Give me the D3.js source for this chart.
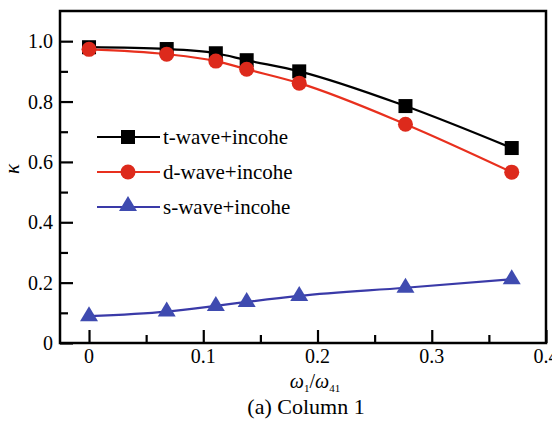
<!DOCTYPE html>
<html><head><meta charset="utf-8">
<script src="https://cdn.jsdelivr.net/npm/d3@7"></script>
<style>body{margin:0;background:#fff}</style>
</head><body><svg id="c" width="552" height="425"></svg>
<script>
const xValues = [0, 0.068, 0.111, 0.138, 0.184, 0.277, 0.370];
const tWave = [0.980, 0.974, 0.960, 0.937, 0.900, 0.785, 0.646];
const dWave = [0.973, 0.957, 0.934, 0.907, 0.861, 0.725, 0.566];
const sWave = [0.089, 0.104, 0.123, 0.136, 0.156, 0.183, 0.211];
const seriesNames = ["t-wave+incohe", "d-wave+incohe", "s-wave+incohe"];
const xTicks = [0, 0.1, 0.2, 0.3, 0.4];
const xTickLabels = ["0", "0.1", "0.2", "0.3", "0.4"];
const yTicks = [0, 0.2, 0.4, 0.6, 0.8, 1.0];
const yTickLabels = ["0", "0.2", "0.4", "0.6", "0.8", "1.0"];

const FONT = "'Liberation Serif', 'DejaVu Serif', serif";
const svg = d3.select("#c").attr("font-family", FONT);
const L = 60, R = 546, T = 11, B = 343;
const x = d3.scaleLinear().domain([-0.0254, 0.4]).range([L, R]);
const y = d3.scaleLinear().domain([0, 1.1]).range([B, T]);

const series = [
  {name: seriesNames[0], vals: tWave, color: "#000000", mcolor: "#000000", shape: "square"},
  {name: seriesNames[1], vals: dWave, color: "#e8301e", mcolor: "#dd2a1c", shape: "circle"},
  {name: seriesNames[2], vals: sWave, color: "#3a3aa8", mcolor: "#3f4bb0", shape: "triangle"}
];

function marker(g, shape, cx, cy, col) {
  if (shape === "square") g.append("rect").attr("x", cx-7).attr("y", cy-7).attr("width", 14).attr("height", 14).attr("fill", col);
  else if (shape === "circle") g.append("circle").attr("cx", cx).attr("cy", cy).attr("r", 7.5).attr("fill", col);
  else g.append("path").attr("d", `M${cx},${cy-10}L${cx+9},${cy+5}L${cx-9},${cy+5}Z`).attr("fill", col);
}

const line = d3.line().x(d => x(d[0])).y(d => y(d[1])).curve(d3.curveMonotoneX);
series.forEach(s => {
  const pts = xValues.map((v, i) => [v, s.vals[i]]);
  svg.append("path").attr("d", line(pts)).attr("fill", "none").attr("stroke", s.color).attr("stroke-width", 2.2);
});
series.forEach(s => {
  const g = svg.append("g");
  xValues.forEach((v, i) => marker(g, s.shape, x(v), y(s.vals[i]), s.mcolor));
});

// axes box
svg.append("rect").attr("x", L).attr("y", T).attr("width", R-L).attr("height", B-T).attr("fill", "none").attr("stroke", "#000").attr("stroke-width", 2.5);

// x ticks (inward)
const xAxis = d3.axisTop(x).tickValues(xTicks).tickSize(13).tickFormat("");
const gx = svg.append("g").attr("transform", `translate(0,${B})`).call(xAxis);
gx.select(".domain").remove();
gx.selectAll("line").attr("stroke-width", 2.2);
const xMinor = d3.axisTop(x).tickValues([0.05, 0.15, 0.25, 0.35]).tickSize(8).tickFormat("");
const gxm = svg.append("g").attr("transform", `translate(0,${B})`).call(xMinor);
gxm.select(".domain").remove();
gxm.selectAll("line").attr("stroke-width", 2.2);
xTicks.forEach((t, i) => {
  svg.append("text").attr("x", x(t)).attr("y", B + 20).attr("text-anchor", "middle")
    .attr("font-family", FONT).attr("font-size", 20).text(xTickLabels[i]);
});

// y ticks (inward)
const yAxis = d3.axisRight(y).tickValues(yTicks).tickSize(13).tickFormat("");
const gy = svg.append("g").attr("transform", `translate(${L},0)`).call(yAxis);
gy.select(".domain").remove();
gy.selectAll("line").attr("stroke-width", 2.2);
const yMinor = d3.axisRight(y).tickValues([0.1, 0.3, 0.5, 0.7, 0.9]).tickSize(8).tickFormat("");
const gym = svg.append("g").attr("transform", `translate(${L},0)`).call(yMinor);
gym.select(".domain").remove();
gym.selectAll("line").attr("stroke-width", 2.2);
yTicks.forEach((t, i) => {
  svg.append("text").attr("x", L - 7).attr("y", y(t) + 7).attr("text-anchor", "end")
    .attr("font-family", FONT).attr("font-size", 20).text(yTickLabels[i]);
});

// y label
svg.append("text").attr("transform", "translate(19,169) rotate(-90)").attr("text-anchor", "middle")
  .attr("font-family", FONT).attr("font-size", 21).attr("font-style", "italic").text("κ");

// x label
const xl = svg.append("text").attr("x", 315).attr("y", 388).attr("text-anchor", "middle")
  .attr("font-family", FONT).attr("font-size", 20).attr("font-style", "italic");
xl.append("tspan").text("ω");
xl.append("tspan").attr("font-size", 11).attr("dy", 4).attr("font-style", "normal").text("1");
xl.append("tspan").attr("dy", -4).attr("font-style", "normal").text("/");
xl.append("tspan").text("ω");
xl.append("tspan").attr("font-size", 11).attr("dy", 4).attr("font-style", "normal").text("41");

// caption
svg.append("text").attr("x", 306).attr("y", 414).attr("text-anchor", "middle")
  .attr("font-family", FONT).attr("font-size", 22).text("(a) Column 1");

// legend
series.forEach((s, i) => {
  const ly = 137 + i * 35;
  svg.append("line").attr("x1", 97).attr("x2", 160).attr("y1", ly).attr("y2", ly).attr("stroke", s.color).attr("stroke-width", 2.2);
  const g = svg.append("g");
  marker(g, s.shape, 128, s.shape === "triangle" ? ly - 1 : ly, s.mcolor);
  svg.append("text").attr("x", 163).attr("y", ly + 7).attr("font-family", FONT).attr("font-size", 21).text(s.name);
});
</script></body></html>
